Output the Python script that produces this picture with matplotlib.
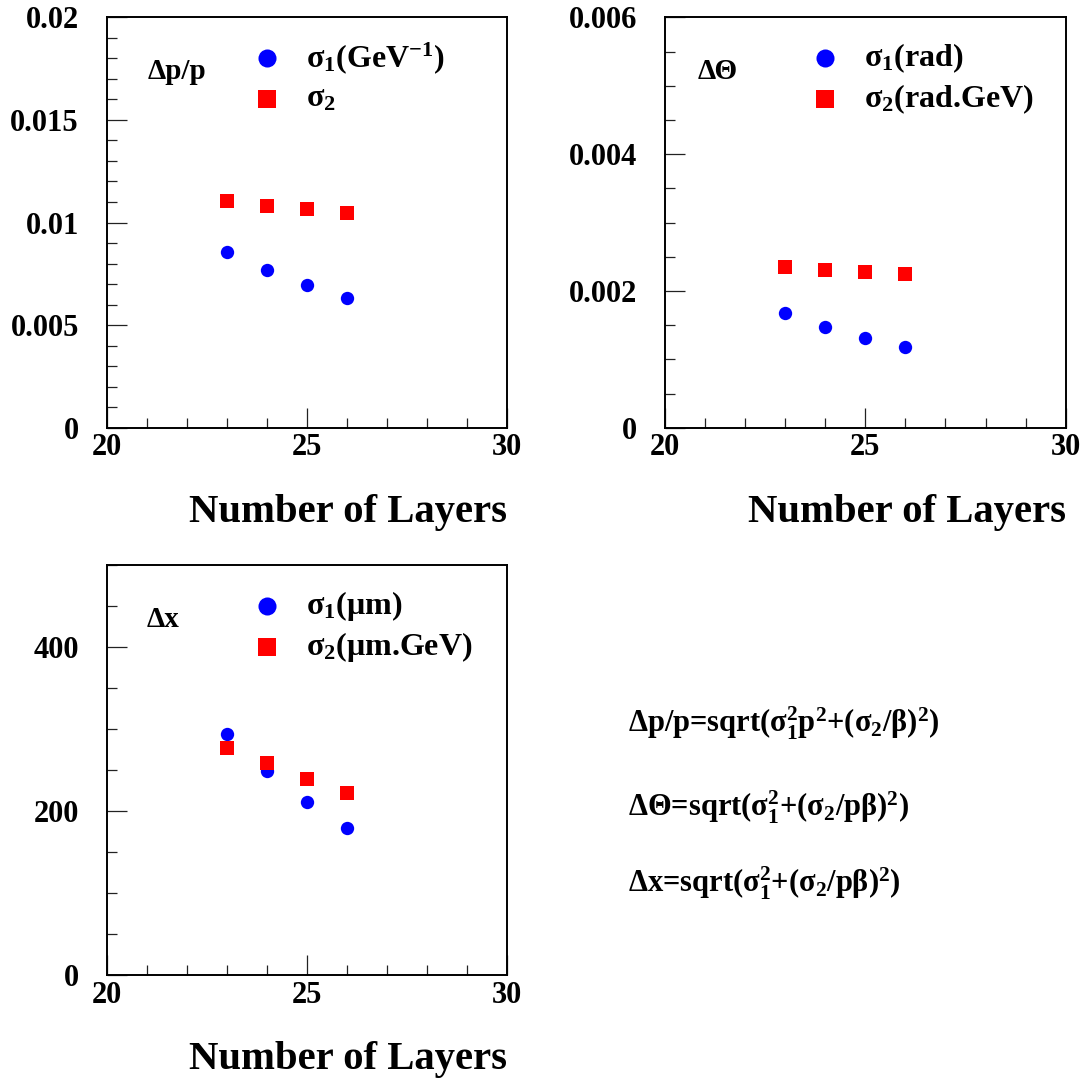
import matplotlib
matplotlib.use("Agg")
import matplotlib.pyplot as plt
from matplotlib.ticker import MultipleLocator

# ---- data -------------------------------------------------------------
layers = [23, 24, 25, 26]

dpp_sigma1 = [0.00857, 0.00770, 0.00695, 0.00633]
dpp_sigma2 = [0.01103, 0.01081, 0.01064, 0.01044]

dtheta_sigma1 = [0.001684, 0.001478, 0.001313, 0.001178]
dtheta_sigma2 = [0.002350, 0.002305, 0.002275, 0.002240]

dx_sigma1 = [294, 249, 211, 179]
dx_sigma2 = [277, 258, 239, 222]

x_ticks = [20, 25, 30]
x_tick_labels = ["20", "25", "30"]

dpp_ticks = [0, 0.005, 0.01, 0.015, 0.02]
dpp_tick_labels = ["0", "0.005", "0.01", "0.015", "0.02"]
dtheta_ticks = [0, 0.002, 0.004, 0.006]
dtheta_tick_labels = ["0", "0.002", "0.004", "0.006"]
dx_ticks = [0, 200, 400]
dx_tick_labels = ["0", "200", "400"]

# ---- style ------------------------------------------------------------
plt.rcParams["font.family"] = ["Liberation Serif", "DejaVu Serif"]
plt.rcParams["font.weight"] = "bold"
plt.rcParams["mathtext.fontset"] = "custom"
plt.rcParams["mathtext.rm"] = "Liberation Serif:bold"
plt.rcParams["mathtext.it"] = "Liberation Serif:bold"
plt.rcParams["mathtext.bf"] = "Liberation Serif:bold"
plt.rcParams["mathtext.default"] = "rm"

BLUE = "#0000ff"
RED = "#ff0000"

fig = plt.figure(figsize=(10.86, 10.84), dpi=100)

W, H = 1086.0, 1084.0


def add_panel(left_px, top_px, right_px, bottom_px):
    return fig.add_axes([left_px / W, 1 - bottom_px / H,
                         (right_px - left_px) / W, (bottom_px - top_px) / H])


def style_axes(ax, ymax, yticks, ylabels, yminor):
    ax.set_xlim(20, 30)
    ax.set_ylim(0, ymax)
    ax.set_xticks(x_ticks, x_tick_labels)
    ax.set_yticks(yticks, ylabels)
    ax.xaxis.set_minor_locator(MultipleLocator(1))
    ax.yaxis.set_minor_locator(MultipleLocator(yminor))
    ax.tick_params(which="both", direction="in", top=False, right=False,
                   width=0.9, color="#222222")
    ax.tick_params(which="major", length=14.5)
    ax.tick_params(which="minor", length=7.2)
    ax.tick_params(axis="x", which="major", pad=4, labelsize=22)
    ax.tick_params(axis="y", which="major", pad=20, labelsize=22)
    for lab in ax.get_xticklabels() + ax.get_yticklabels():
        lab.set_fontweight("bold")
    for sp in ax.spines.values():
        sp.set_linewidth(1.4)
    ax.text(1.0, -0.23, "Number of Layers", transform=ax.transAxes,
            ha="right", va="baseline", fontsize=29.3, fontweight="bold")


def draw_points(ax, s1, s2):
    ax.plot(layers, s1, "o", color=BLUE, markersize=9.6, markeredgewidth=0,
            clip_on=False)
    ax.plot(layers, s2, "s", color=RED, markersize=9.4, markeredgewidth=0,
            clip_on=False)


def draw_key(ax, quantity, qx, label1, label2):
    ax.text(qx, 0.867, quantity, transform=ax.transAxes, ha="left",
            va="center", fontsize=21, fontweight="bold")
    ax.plot([0.40], [0.90], "o", color=BLUE, markersize=13,
            markeredgewidth=0, transform=ax.transAxes, clip_on=False)
    ax.plot([0.40], [0.80], "s", color=RED, markersize=13,
            markeredgewidth=0, transform=ax.transAxes, clip_on=False)
    ax.text(0.497, 0.90, label1, transform=ax.transAxes, ha="left",
            va="center", fontsize=23)
    ax.text(0.497, 0.80, label2, transform=ax.transAxes, ha="left",
            va="center", fontsize=23)


# momentum resolution
ax1 = add_panel(106.7, 17.3, 506.7, 427.7)
draw_points(ax1, dpp_sigma1, dpp_sigma2)
style_axes(ax1, 0.02, dpp_ticks, dpp_tick_labels, 0.001)
draw_key(ax1, "Δp/p", 0.103, "σ$_1$(GeV$^{-1}$)", "σ$_2$")

# angular resolution
ax2 = add_panel(665.0, 17.3, 1065.7, 427.7)
draw_points(ax2, dtheta_sigma1, dtheta_sigma2)
style_axes(ax2, 0.006, dtheta_ticks, dtheta_tick_labels, 0.0005)
draw_key(ax2, "ΔΘ", 0.082, "σ$_1$(rad)", "σ$_2$(rad.GeV)")

# position resolution
ax3 = add_panel(106.7, 565.0, 506.7, 975.0)
draw_points(ax3, dx_sigma1, dx_sigma2)
style_axes(ax3, 500, dx_ticks, dx_tick_labels, 50)
draw_key(ax3, "Δx", 0.10, "σ$_1$(μm)", "σ$_2$(μm.GeV)")

# parametrisations
formulas = [
    (733, "Δp/p=sqrt(σ$_1^2$p$^2$+(σ$_2$/β)$^2$)"),
    (816, "ΔΘ=sqrt(σ$_1^2$+(σ$_2$/pβ)$^2$)"),
    (892, "Δx=sqrt(σ$_1^2$+(σ$_2$/pβ)$^2$)"),
]
for ypx, txt in formulas:
    fig.text(628 / W, 1 - ypx / H, txt, ha="left", va="baseline",
             fontsize=22)

fig.savefig("out.png", dpi=100)
